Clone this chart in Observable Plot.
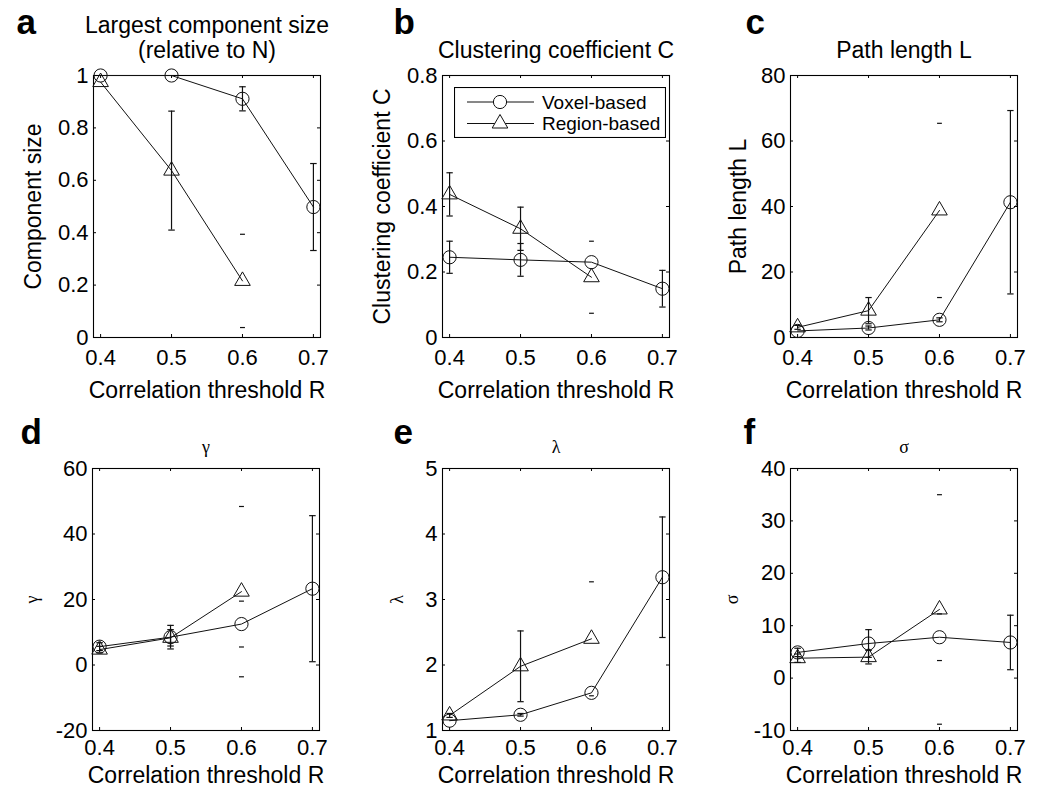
<!DOCTYPE html>
<html><head><meta charset="utf-8">
<script src="https://cdn.jsdelivr.net/npm/d3@7"></script>
<script src="https://cdn.jsdelivr.net/npm/@observablehq/plot@0.6"></script>
<style>
body{margin:0;background:#fff;}
#fig{position:relative;width:1050px;height:804px;background:#fff;overflow:hidden;font-family:"Liberation Sans",Arial,Helvetica,sans-serif;}
.panel{position:absolute;}
.panel svg{background:transparent;overflow:visible;}
#legend{position:absolute;left:454px;top:87px;}
</style></head><body><div id="fig"></div>
<script>
// ---------- shared ----------
const thresholds = [0.4, 0.5, 0.6, 0.7];
const xTickValues = [0.4, 0.5, 0.6, 0.7];
const xLabelText = "Correlation threshold R";
const legendNames = ["Voxel-based", "Region-based"];
const panelLetters = ["a", "b", "c", "d", "e", "f"];

// ---------- a: largest component size ----------
const sizeTitle = "Largest component size\n(relative to N)";
const sizeYLabel = "Component size";
const sizeTicks = [0, 0.2, 0.4, 0.6, 0.8, 1];
const sizeVoxel = [1.0, 1.0, 0.911, 0.498];
const sizeVoxelErr = [0, 0, 0.046, 0.166];
const sizeVoxelBar = [true, true, true, true];
const sizeRegion = [0.975, 0.637, 0.216];
const sizeRegionErr = [0, 0.227, 0.178];
const sizeRegionBar = [true, true, false];

// ---------- b: clustering coefficient ----------
const clustTitle = "Clustering coefficient C";
const clustYLabel = "Clustering coefficient C";
const clustTicks = [0, 0.2, 0.4, 0.6, 0.8];
const clustVoxel = [0.245, 0.237, 0.230, 0.149];
const clustVoxelErr = [0.049, 0.05, 0, 0.056];
const clustVoxelBar = [true, true, true, true];
const clustRegion = [0.437, 0.332, 0.184];
const clustRegionErr = [0.066, 0.066, 0.11];
const clustRegionBar = [true, true, false];

// ---------- c: path length ----------
const pathTitle = "Path length L";
const pathYLabel = "Path length L";
const pathTicks = [0, 20, 40, 60, 80];
const pathVoxel = [2.0, 2.9, 5.4, 41.3];
const pathVoxelErr = [0, 0.6, 0.6, 28];
const pathVoxelBar = [true, true, true, true];
const pathRegion = [3.1, 8.2, 38.8];
const pathRegionErr = [0.6, 4, 26.6];
const pathRegionBar = [true, true, false];

// ---------- d: gamma ----------
const gammaTitle = "γ";
const gammaTicks = [-20, 0, 20, 40, 60];
const gammaVoxel = [5.6, 8.5, 12.5, 23.3];
const gammaVoxelErr = [1.2, 3.6, 7, 22.3];
const gammaVoxelBar = [true, true, false, true];
const gammaRegion = [4.7, 8.3, 22.4];
const gammaRegionErr = [1.0, 2.5, 26];
const gammaRegionBar = [true, true, false];

// ---------- e: lambda ----------
const lambdaTitle = "λ";
const lambdaTicks = [1, 2, 3, 4, 5];
const lambdaVoxel = [1.15, 1.24, 1.575, 3.34];
const lambdaVoxelErr = [0, 0.02, 0, 0.92];
const lambdaVoxelBar = [true, true, true, true];
const lambdaRegion = [1.23, 1.98, 2.40];
const lambdaRegionErr = [0.03, 0.54, 0.87];
const lambdaRegionBar = [true, true, false];

// ---------- f: sigma ----------
const sigmaTitle = "σ";
const sigmaTicks = [-10, 0, 10, 20, 30, 40];
const sigmaVoxel = [4.9, 6.6, 7.8, 6.8];
const sigmaVoxelErr = [0.8, 2.65, 4.45, 5.2];
const sigmaVoxelBar = [true, true, false, true];
const sigmaRegion = [3.8, 4.0, 13.1];
const sigmaRegionErr = [0.8, 1.3, 21.9];
const sigmaRegionBar = [true, true, false];

// ---------- helpers ----------
const INK = "#111";
const SANS = "Liberation Sans, Arial, Helvetica, sans-serif";
const SERIF = "Liberation Serif, DejaVu Serif, serif";
const capSymbol = {draw(ctx, size) { const w = Math.sqrt(size / Math.PI); ctx.moveTo(-w, 0); ctx.lineTo(w, 0); }};

function rows(vals, errs, bars) {
  return vals.map((v, i) => ({x: thresholds[i], y: v, lo: v - errs[i], hi: v + errs[i], err: errs[i], bar: bars[i]}));
}

function seriesMarks(data, symbol, r) {
  const withErr = data.filter(d => d.err > 0);
  const capR = d => d.bar ? 2.8 : 1.6;
  return [
    Plot.ruleX(withErr.filter(d => d.bar), {x: "x", y1: "lo", y2: "hi", stroke: INK, strokeWidth: 1.2}),
    Plot.dot(withErr, {x: "x", y: "lo", symbol: capSymbol, r: capR, stroke: INK, fill: "none", strokeWidth: 1.2}),
    Plot.dot(withErr, {x: "x", y: "hi", symbol: capSymbol, r: capR, stroke: INK, fill: "none", strokeWidth: 1.2}),
    Plot.line(data, {x: "x", y: "y", stroke: INK, strokeWidth: 1}),
    Plot.dot(data, {x: "x", y: "y", symbol, r, stroke: INK, fill: "none", strokeWidth: 1})
  ];
}

function makePanel(cfg) {
  const width = 350, ml = 92, mr = 31;
  const innerW = width - ml - mr, innerH = cfg.height - cfg.mt - cfg.mb;
  const vox = rows(cfg.voxel, cfg.voxelErr, cfg.voxelBar);
  const reg = rows(cfg.region, cfg.regionErr, cfg.regionBar);
  const ylabFont = cfg.greek ? SERIF : SANS;
  const ylabSize = cfg.greek ? 18 : 23;
  const plot = Plot.plot({
    width, height: cfg.height,
    marginLeft: ml, marginRight: mr, marginTop: cfg.mt, marginBottom: cfg.mb,
    style: {background: "transparent", fontSize: "22px", fontFamily: SANS, color: "#000", overflow: "visible"},
    x: {domain: [0.39, 0.71]},
    y: {domain: cfg.yDomain},
    marks: [
      Plot.frame({stroke: "#000", strokeWidth: 1.1}),
      Plot.tickX(xTickValues, {x: d => d, insetTop: innerH - 3, stroke: "#000"}),
      Plot.tickX(xTickValues, {x: d => d, insetBottom: innerH - 3, stroke: "#000"}),
      Plot.tickY(cfg.yTicks, {y: d => d, insetRight: innerW - 3, stroke: "#000"}),
      Plot.tickY(cfg.yTicks, {y: d => d, insetLeft: innerW - 3, stroke: "#000"}),
      Plot.axisX({ticks: xTickValues, tickSize: 0, tickPadding: cfg.xPad, tickFormat: d => String(d), label: null, fontSize: 22, fill: "#000"}),
      Plot.axisY({ticks: cfg.yTicks, tickSize: 0, tickPadding: 5, tickFormat: d => String(d), label: null, fontSize: 22, fill: "#000"}),
      ...seriesMarks(vox, "circle", 6.6),
      ...seriesMarks(reg, "triangle", 5.8),
      Plot.text([xLabelText], {text: d => d, frameAnchor: "bottom", textAnchor: "middle", lineAnchor: "bottom", dy: cfg.xLabDy, fontSize: 23, fill: "#000"}),
      Plot.text([cfg.ylabel], {text: d => d, frameAnchor: "left", textAnchor: "middle", rotate: -90, dx: cfg.yLabDx, lineAnchor: "middle", fontSize: ylabSize, fontFamily: ylabFont, fill: "#000"}),
      Plot.text([cfg.title], {text: d => d, frameAnchor: "top", textAnchor: "middle", lineAnchor: "bottom", dy: cfg.titleDy, lineHeight: 1.06, fontSize: cfg.greek ? 18 : 23, fontFamily: cfg.greek ? SERIF : SANS, fill: "#000"}),
      Plot.text([cfg.letter], {text: d => d, frameAnchor: "top-left", textAnchor: "start", lineAnchor: "bottom", dx: cfg.letDx, dy: cfg.letDy, fontSize: 35, fontWeight: "bold", fontFamily: SANS, fill: "#000"})
    ]
  });
  const div = document.createElement("div");
  div.className = "panel";
  div.style.left = cfg.left + "px";
  div.style.top = cfg.top + "px";
  div.appendChild(plot);
  document.getElementById("fig").appendChild(div);
}

const topRow = {top: 0, height: 400, mt: 75, mb: 63, xPad: 12, xLabDy: 60, titleDy: -18, letDy: -42};
const botRow = {top: 400, height: 404, mt: 68, mb: 74, xPad: 9, xLabDy: 52, titleDy: -16, letDy: -25, greek: true};

makePanel({...topRow, left: 1, letter: panelLetters[0], title: sizeTitle, ylabel: sizeYLabel, yDomain: [0, 1], yTicks: sizeTicks,
  voxel: sizeVoxel, voxelErr: sizeVoxelErr, voxelBar: sizeVoxelBar, region: sizeRegion, regionErr: sizeRegionErr, regionBar: sizeRegionBar,
  yLabDx: -60, letDx: -77});
makePanel({...topRow, left: 350, letter: panelLetters[1], title: clustTitle, ylabel: clustYLabel, yDomain: [0, 0.8], yTicks: clustTicks,
  voxel: clustVoxel, voxelErr: clustVoxelErr, voxelBar: clustVoxelBar, region: clustRegion, regionErr: clustRegionErr, regionBar: clustRegionBar,
  yLabDx: -60, letDx: -49});
makePanel({...topRow, left: 698, letter: panelLetters[2], title: pathTitle, ylabel: pathYLabel, yDomain: [0, 80], yTicks: pathTicks,
  voxel: pathVoxel, voxelErr: pathVoxelErr, voxelBar: pathVoxelBar, region: pathRegion, regionErr: pathRegionErr, regionBar: pathRegionBar,
  yLabDx: -52, letDx: -45});
makePanel({...botRow, left: 0, letter: panelLetters[3], title: gammaTitle, ylabel: gammaTitle, yDomain: [-20, 60], yTicks: gammaTicks,
  voxel: gammaVoxel, voxelErr: gammaVoxelErr, voxelBar: gammaVoxelBar, region: gammaRegion, regionErr: gammaRegionErr, regionBar: gammaRegionBar,
  yLabDx: -60, letDx: -72});
makePanel({...botRow, left: 350, letter: panelLetters[4], title: lambdaTitle, ylabel: lambdaTitle, yDomain: [1, 5], yTicks: lambdaTicks,
  voxel: lambdaVoxel, voxelErr: lambdaVoxelErr, voxelBar: lambdaVoxelBar, region: lambdaRegion, regionErr: lambdaRegionErr, regionBar: lambdaRegionBar,
  yLabDx: -45, letDx: -49});
makePanel({...botRow, left: 698, letter: panelLetters[5], title: sigmaTitle, ylabel: sigmaTitle, yDomain: [-10, 40], yTicks: sigmaTicks,
  voxel: sigmaVoxel, voxelErr: sigmaVoxelErr, voxelBar: sigmaVoxelBar, region: sigmaRegion, regionErr: sigmaRegionErr, regionBar: sigmaRegionBar,
  yLabDx: -58, letDx: -47});

// ---------- legend (panel b) ----------
(function () {
  const ns = "http://www.w3.org/2000/svg";
  const W = 212, H = 51;
  const svg = document.createElementNS(ns, "svg");
  svg.setAttribute("width", W); svg.setAttribute("height", H);
  svg.setAttribute("id", "legend");
  const el = (tag, attrs) => { const e = document.createElementNS(ns, tag); for (const k in attrs) e.setAttribute(k, attrs[k]); svg.appendChild(e); return e; };
  el("rect", {x: 0.5, y: 0.5, width: W - 1, height: H - 1, fill: "#fff", stroke: "#000", "stroke-width": 1.1});
  const symbols = [d3.symbolCircle, d3.symbolTriangle];
  const sizes = [Math.PI * 6.6 * 6.6, Math.PI * 5.8 * 5.8];
  legendNames.forEach((name, i) => {
    const cy = 15 + i * 21.5;
    el("line", {x1: 13, x2: 80, y1: cy, y2: cy, stroke: INK, "stroke-width": 1});
    el("path", {d: d3.symbol(symbols[i], sizes[i])(), transform: `translate(46,${cy})`, fill: "#fff", stroke: INK, "stroke-width": 1});
    const t = el("text", {x: 88, y: cy, dy: "0.35em", "font-size": 19, "font-family": SANS, fill: "#000"});
    t.textContent = name;
  });
  document.getElementById("fig").appendChild(svg);
})();
</script>
</body></html>
